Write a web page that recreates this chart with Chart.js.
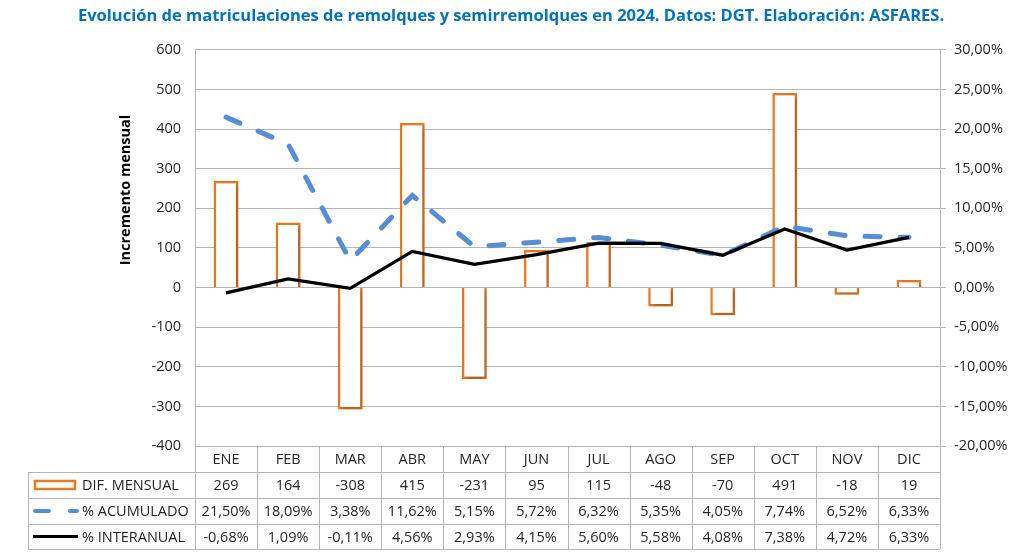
<!DOCTYPE html>
<html>
<head>
<meta charset="utf-8">
<script src="https://cdn.jsdelivr.net/npm/chart.js@4.4.1/dist/chart.umd.min.js"></script>
<style>
  html, body { margin: 0; padding: 0; background: #fff; }
  #wrap { width: 1022px; height: 559px; }
</style>
</head>
<body>
<div id="wrap"><canvas id="chart" width="1022" height="559"></canvas></div>
<script>
// Datos del gráfico
const meses = ['ENE', 'FEB', 'MAR', 'ABR', 'MAY', 'JUN', 'JUL', 'AGO', 'SEP', 'OCT', 'NOV', 'DIC'];
const difMensual = [269, 164, -308, 415, -231, 95, 115, -48, -70, 491, -18, 19];
const pctAcumulado = [21.50, 18.09, 3.38, 11.62, 5.15, 5.72, 6.32, 5.35, 4.05, 7.74, 6.52, 6.33];
const pctInteranual = [-0.68, 1.09, -0.11, 4.56, 2.93, 4.15, 5.60, 5.58, 4.08, 7.38, 4.72, 6.33];

const NARANJA = '#E97A1E';
const AZUL = '#558ED5';
const GRIS = '#b4b4b4';
const TEXTO = '#262626';
const FUENTE = '"Open Sans", "Noto Sans", sans-serif';

function pct(v) {
    return v.toFixed(2).replace('.', ',') + '%';
}

// sombra de las barras
const barShadow = {
    id: 'barShadow',
    beforeDatasetDraw(chart, args) {
        if (args.index !== 0) return;
        const ctx = chart.ctx;
        ctx.save();
        ctx.shadowColor = 'rgba(0,0,0,0.28)';
        ctx.shadowBlur = 4;
        ctx.shadowOffsetX = 2;
        ctx.shadowOffsetY = 2;
    },
    afterDatasetDraw(chart, args) {
        if (args.index !== 0) return;
        chart.ctx.restore();
    }
};

// tabla de datos bajo el gráfico + título del eje
const dataTable = {
    id: 'dataTable',
    afterDraw(chart) {
        const ctx = chart.ctx;
        const area = chart.chartArea;
        const xs = chart.scales.x;
        const colW = (area.right - area.left) / meses.length;
        const legendLeft = 28;
        const rows = [area.bottom, area.bottom + 26, area.bottom + 52, area.bottom + 78, area.bottom + 103];

        ctx.save();
        ctx.strokeStyle = GRIS;
        ctx.lineWidth = 1;
        ctx.beginPath();
        // horizontales
        ctx.moveTo(area.left, rows[0] + 0.5);
        ctx.lineTo(area.right, rows[0] + 0.5);
        for (let r = 1; r < rows.length; r++) {
            ctx.moveTo(legendLeft, Math.round(rows[r]) + 0.5);
            ctx.lineTo(area.right, Math.round(rows[r]) + 0.5);
        }
        // verticales
        for (let i = 0; i <= meses.length; i++) {
            const x = Math.round(area.left + i * colW) + 0.5;
            ctx.moveTo(x, rows[0]);
            ctx.lineTo(x, rows[4]);
        }
        ctx.moveTo(legendLeft + 0.5, rows[1]);
        ctx.lineTo(legendLeft + 0.5, rows[4]);
        ctx.stroke();

        ctx.fillStyle = TEXTO;
        ctx.font = '14.5px ' + FUENTE;
        ctx.textAlign = 'center';
        ctx.textBaseline = 'middle';
        const series = [
            difMensual.map(v => String(v)),
            pctAcumulado.map(pct),
            pctInteranual.map(pct)
        ];
        meses.forEach((m, i) => {
            const cx = xs.getPixelForValue(i);
            ctx.fillText(m, cx, (rows[0] + rows[1]) / 2 + 1);
            series.forEach((s, r) => {
                ctx.fillText(s[i], cx, (rows[r + 1] + rows[r + 2]) / 2 + 1);
            });
        });

        // leyenda
        ctx.textAlign = 'left';
        const names = ['DIF. MENSUAL', '% ACUMULADO', '% INTERANUAL'];
        names.forEach((n, r) => {
            ctx.fillText(n, 82, (rows[r + 1] + rows[r + 2]) / 2 + 1);
        });
        let y = (rows[1] + rows[2]) / 2;
        ctx.strokeStyle = NARANJA;
        ctx.lineWidth = 2.5;
        ctx.strokeRect(35, y - 4, 40, 8);

        y = (rows[2] + rows[3]) / 2;
        ctx.strokeStyle = AZUL;
        ctx.lineWidth = 4;
        ctx.lineCap = 'round';
        ctx.beginPath();
        ctx.moveTo(35, y); ctx.lineTo(49, y);
        ctx.moveTo(70, y); ctx.lineTo(77, y);
        ctx.stroke();

        y = (rows[3] + rows[4]) / 2;
        ctx.strokeStyle = '#000';
        ctx.lineWidth = 3;
        ctx.lineCap = 'butt';
        ctx.beginPath();
        ctx.moveTo(33, y); ctx.lineTo(78, y);
        ctx.stroke();

        // título del eje izquierdo
        ctx.translate(126, 190);
        ctx.rotate(-Math.PI / 2);
        ctx.textAlign = 'center';
        ctx.fillStyle = '#000';
        ctx.font = 'bold 14.5px ' + FUENTE;
        ctx.fillText('Incremento mensual', 0, 0);
        ctx.restore();
    }
};

const ctx = document.getElementById('chart').getContext('2d');
new Chart(ctx, {
    type: 'bar',
    data: {
        labels: meses,
        datasets: [
            {
                label: 'DIF. MENSUAL',
                data: difMensual,
                backgroundColor: '#ffffff',
                borderColor: NARANJA,
                borderWidth: 2.5,
                barPercentage: 0.8,
                categoryPercentage: 0.5,
                yAxisID: 'y',
                order: 3
            },
            {
                type: 'line',
                label: '% ACUMULADO',
                data: pctAcumulado,
                borderColor: AZUL,
                borderWidth: 5,
                borderDash: [15, 20],
                borderCapStyle: 'round',
                pointRadius: 0,
                tension: 0,
                yAxisID: 'y1',
                order: 2
            },
            {
                type: 'line',
                label: '% INTERANUAL',
                data: pctInteranual,
                borderColor: '#000000',
                borderWidth: 3.3,
                pointRadius: 0,
                tension: 0,
                yAxisID: 'y1',
                order: 1
            }
        ]
    },
    options: {
        responsive: false,
        animation: false,
        layout: { padding: { left: 0, right: 0, top: 0, bottom: 113 } },
        plugins: {
            legend: { display: false },
            tooltip: { enabled: false },
            title: {
                display: true,
                text: 'Evolución de matriculaciones de remolques y semirremolques en 2024. Datos: DGT. Elaboración: ASFARES.',
                color: '#0070C0',
                font: { family: FUENTE, size: 16.5, weight: 'bold' },
                padding: { top: 6, bottom: 24 }
            }
        },
        scales: {
            x: {
                display: false,
                offset: true
            },
            y: {
                position: 'left',
                min: -400,
                max: 600,
                afterFit(scale) { scale.width = 195; },
                ticks: {
                    stepSize: 100,
                    color: TEXTO,
                    padding: 14,
                    font: { family: FUENTE, size: 14.5 }
                },
                grid: { color: GRIS, drawTicks: false },
                border: { display: true, color: GRIS }
            },
            y1: {
                position: 'right',
                min: -20,
                max: 30,
                afterFit(scale) { scale.width = 82; },
                ticks: {
                    stepSize: 5,
                    color: TEXTO,
                    padding: 8,
                    font: { family: FUENTE, size: 14.5 },
                    callback: v => pct(v)
                },
                grid: { drawOnChartArea: false, color: GRIS, tickLength: 6 },
                border: { display: true, color: GRIS }
            }
        }
    },
    plugins: [barShadow, dataTable]
});
</script>
</body>
</html>
